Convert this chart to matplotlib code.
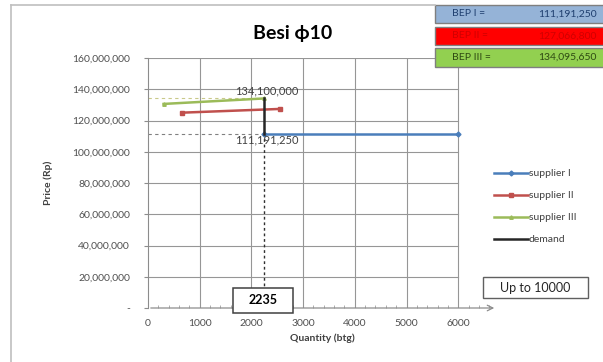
import matplotlib.pyplot as plt
from matplotlib.lines import Line2D
from matplotlib.ticker import FuncFormatter, MultipleLocator

plt.rcParams['font.family'] = ['Lato', 'DejaVu Sans']

# supply / demand lines
sup1_q = [2235, 6000]
sup1_p = [111191250, 111191250]
sup2_q = [650, 2550]
sup2_p = [125000000, 127400000]
sup3_q = [300, 2235]
sup3_p = [130600000, 134095650]
dem_q = [2235, 2235]
dem_p = [111191250, 134100000]

q_bep = 2235
p_low = 111191250
p_high = 134100000

bep_rows = [('BEP I =', '111,191,250', '#95B3D7', '#1F3F6F'),
            ('BEP II =', '127,066,800', '#FF0000', '#D00000'),
            ('BEP III =', '134,095,650', '#92D050', '#2E4A12')]

W, H = 603, 362
fig = plt.figure(figsize=(W / 100, H / 100), dpi=100)
ax = fig.add_axes([148 / W, 1 - 308 / H, (497 - 148) / W, 250 / H])
ax.set_xlim(0, 6750)
ax.set_ylim(0, 160000000)

# grid only inside 0..6000
for y in range(20000000, 160000001, 20000000):
    ax.plot([0, 6000], [y, y], color='#969696', lw=0.8, zorder=1)
for x in range(1000, 6001, 1000):
    ax.plot([x, x], [0, 160000000], color='#969696', lw=0.8, zorder=1)

# guide lines
ax.plot([0, q_bep], [p_high, p_high], color='#C9C98A', lw=0.8, ls=(0, (3, 3)), zorder=2)
ax.plot([0, q_bep], [p_low, p_low], color='#808080', lw=0.8, ls=(0, (3, 3)), zorder=2)
ax.plot([q_bep, q_bep], [0, p_low], color='#303030', lw=1.0, ls=(0, (2, 2)), zorder=2)

ax.plot(sup1_q, sup1_p, color='#4A7EBB', lw=1.8, marker='D', ms=2.5, label='supplier I', zorder=3)
ax.plot(sup2_q, sup2_p, color='#C0504D', lw=1.8, marker='s', ms=2.5, label='supplier II', zorder=3)
ax.plot(sup3_q, sup3_p, color='#9BBB59', lw=1.8, marker='^', ms=2.5, label='supplier III', zorder=3)
ax.plot(dem_q, dem_p, color='#262626', lw=1.8, label='demand', zorder=4)

ax.text(2300, 139000000, f'{p_high:,}', ha='center', va='center', fontsize=8, color='#404040')
ax.text(2300, 107500000, f'{p_low:,}', ha='center', va='center', fontsize=8, color='#404040')

for s in ['top', 'right', 'bottom']:
    ax.spines[s].set_visible(False)
ax.spines['left'].set_color('#8C8C8C')
ax.annotate('', xy=(6750, 0), xytext=(0, 0),
            arrowprops=dict(arrowstyle='->', color='#8C8C8C', lw=0.9), annotation_clip=False)

ax.set_xticks(range(0, 6001, 1000))
ax.xaxis.set_minor_locator(MultipleLocator(200))
ax.tick_params(axis='x', which='major', length=0, labelsize=7.5, labelcolor='#505050', pad=8)
ax.tick_params(axis='x', which='minor', direction='in', length=2.5, color='#A0A0A0')
ax.set_yticks(range(0, 160000001, 20000000))
ax.yaxis.set_major_formatter(FuncFormatter(lambda v, p: '-' if v == 0 else f'{v:,.0f}'))
ax.tick_params(axis='y', length=3, color='#8C8C8C', labelsize=7.5, labelcolor='#505050', pad=10)

ax.set_xlabel('Quantity (btg)', fontsize=7.5, fontweight='bold', color='#404040', labelpad=4)
ax.set_ylabel('Price (Rp)', fontsize=7.5, fontweight='bold', color='#404040', labelpad=14)

fig.text(293 / W, 1 - 33 / H, 'Besi ϕ10', ha='center', va='center', fontsize=14, fontweight='bold')

ax.legend(loc='upper left', bbox_to_anchor=(490 / W, 1 - 165 / H), bbox_transform=fig.transFigure,
          frameon=False, fontsize=7.5, handlelength=3.2, labelspacing=1.22, handletextpad=0.1,
          labelcolor='#404040', borderaxespad=0)

# boxed notes
fig.patches.append(plt.Rectangle((233 / W, 1 - 313 / H), 60 / W, 25 / H, transform=fig.transFigure,
                                 fc='white', ec='#404040', lw=1.1, zorder=5))
fig.text(263 / W, 1 - 300.5 / H, str(q_bep), ha='center', va='center', fontsize=9, fontweight='bold',
         zorder=6)
fig.patches.append(plt.Rectangle((483 / W, 1 - 298 / H), 105 / W, 21 / H, transform=fig.transFigure,
                                 fc='white', ec='#606060', lw=1.0, zorder=5))
fig.text(535.5 / W, 1 - 287.5 / H, 'Up to 10000', ha='center', va='center', fontsize=9,
         color='#262626', zorder=6)

# BEP panel
tops = [5, 27, 48]
for (lab, val, fc, tc), top in zip(bep_rows, tops):
    h = 18 if top != 48 else 19
    fig.patches.append(plt.Rectangle((435 / W, 1 - (top + h) / H), 170 / W, h / H,
                                     transform=fig.transFigure, fc=fc, ec='#7F7F7F', lw=1))
    fig.text(452 / W, 1 - (top + h / 2) / H, lab, ha='left', va='center', fontsize=7.5, color=tc)
    fig.text(597 / W, 1 - (top + h / 2) / H, val, ha='right', va='center', fontsize=7.5, color=tc)

# chart frame
fig.add_artist(Line2D([11 / W, 11 / W], [0, 1 - 5 / H], transform=fig.transFigure, color='#BFBFBF', lw=1.2))
fig.add_artist(Line2D([11 / W, 435 / W], [1 - 5 / H, 1 - 5 / H], transform=fig.transFigure, color='#BFBFBF', lw=1.2))

fig.savefig('out.png', dpi=100)
